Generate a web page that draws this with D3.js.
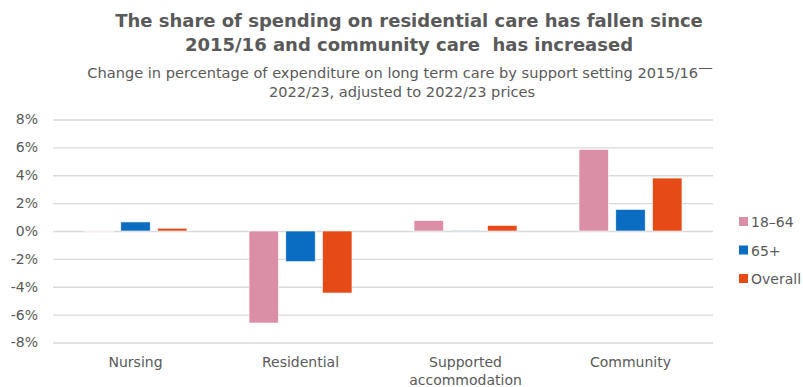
<!DOCTYPE html>
<html>
<head>
<meta charset="utf-8">
<script src="https://cdn.jsdelivr.net/npm/d3@7"></script>
<style>
  html, body { margin: 0; padding: 0; background: #fff; }
  svg { display: block; }
  text { font-family: "DejaVu Sans", Verdana, sans-serif; fill: #595959; white-space: pre; }
</style>
</head>
<body>
<svg id="chart" width="803" height="387"></svg>
<script>
// Support settings along the x axis
const categories = ["Nursing", "Residential", "Supported accommodation", "Community"];
// Series shown in each group
const seriesNames = ["18\u201364", "65+", "Overall"];
// Change in share of expenditure (percentage points), by setting
const values1864 = [-0.05, -6.6, 0.75, 5.85];
const values65 = [0.65, -2.2, 0.05, 1.55];
const valuesOverall = [0.2, -4.45, 0.4, 3.8];
const yTicks = [-8, -6, -4, -2, 0, 2, 4, 6, 8];
const colors = ["#DA8FA6", "#0A6DC1", "#E64A17"];

const seriesValues = [values1864, values65, valuesOverall];

const svg = d3.select("#chart");

const x0 = d3.scaleBand().domain(categories).range([53, 713]).paddingInner(0.376).paddingOuter(0.188);
const x1 = d3.scaleBand().domain(seriesNames).range([0, x0.bandwidth()]).paddingInner(0.2);
const y = d3.scaleLinear().domain([-8, 8]).range([342.5, 119.5]);

// Title and subtitle
const title = svg.append("g");
title.append("text").attr("x", 409).attr("y", 27).attr("text-anchor", "middle")
  .attr("font-size", 18).attr("font-weight", "bold")
  .text("The share of spending on residential care has fallen since");
title.append("text").attr("x", 409).attr("y", 51).attr("text-anchor", "middle")
  .attr("font-size", 18).attr("font-weight", "bold")
  .text("2015/16 and community care  has increased");
const sub1 = title.append("text").attr("x", 400).attr("y", 78).attr("text-anchor", "middle")
  .attr("font-size", 14.6);
sub1.append("tspan").text("Change in percentage of expenditure on long term care by support setting 2015/16");
sub1.append("tspan").attr("dy", -5).text("\u2014");
title.append("text").attr("x", 402).attr("y", 97).attr("text-anchor", "middle")
  .attr("font-size", 14.6)
  .text("2022/23, adjusted to 2022/23 prices");

// Gridlines and y axis labels
const yAxis = d3.axisLeft(y).tickValues(yTicks).tickSize(-(713 - 53)).tickFormat(d => d + "%");
const gy = svg.append("g").attr("transform", "translate(53,0)").call(yAxis);
gy.select(".domain").remove();
gy.selectAll(".tick line").attr("stroke", "#D9D9D9").attr("stroke-width", 1.3);
gy.selectAll(".tick text").attr("x", -15).attr("font-size", 14).attr("fill", "#595959")
  .style("font-family", "'DejaVu Sans', Verdana, sans-serif");

// Bars
const groups = svg.append("g").selectAll("g").data(categories).join("g")
  .attr("transform", d => `translate(${x0(d)},0)`);
groups.selectAll("rect")
  .data((c, i) => seriesNames.map((s, j) => ({ s, j, v: seriesValues[j][i] })))
  .join("rect")
  .attr("x", d => x1(d.s))
  .attr("width", x1.bandwidth())
  .attr("y", d => Math.min(y(d.v), y(0)))
  .attr("height", d => Math.max(Math.abs(y(d.v) - y(0)), 0.8))
  .attr("fill", d => colors[d.j])
  .attr("stroke", "#fff").attr("stroke-width", 0.6);

// Category labels
const xAxis = d3.axisBottom(x0).tickSize(0).tickFormat("");
const gx = svg.append("g").attr("transform", "translate(0,343)").call(xAxis);
gx.select(".domain").remove();
gx.selectAll(".tick").each(function(d) {
  const t = d3.select(this).append("text").attr("text-anchor", "middle")
    .attr("font-size", 14).attr("fill", "#595959");
  const lines = d === "Supported accommodation" ? ["Supported", "accommodation"] : [d];
  lines.forEach((l, i) => t.append("tspan").attr("x", 0).attr("y", 24 + i * 18).text(l));
});

// Legend
const legend = svg.append("g").selectAll("g").data(seriesNames).join("g")
  .attr("transform", (d, i) => `translate(739,${222 + i * 28.5})`);
legend.append("rect").attr("x", 0).attr("y", -5).attr("width", 9).attr("height", 9)
  .attr("fill", (d, i) => colors[i]);
legend.append("text").attr("x", 12).attr("y", 5).attr("font-size", 14).text(d => d);
</script>
</body>
</html>
